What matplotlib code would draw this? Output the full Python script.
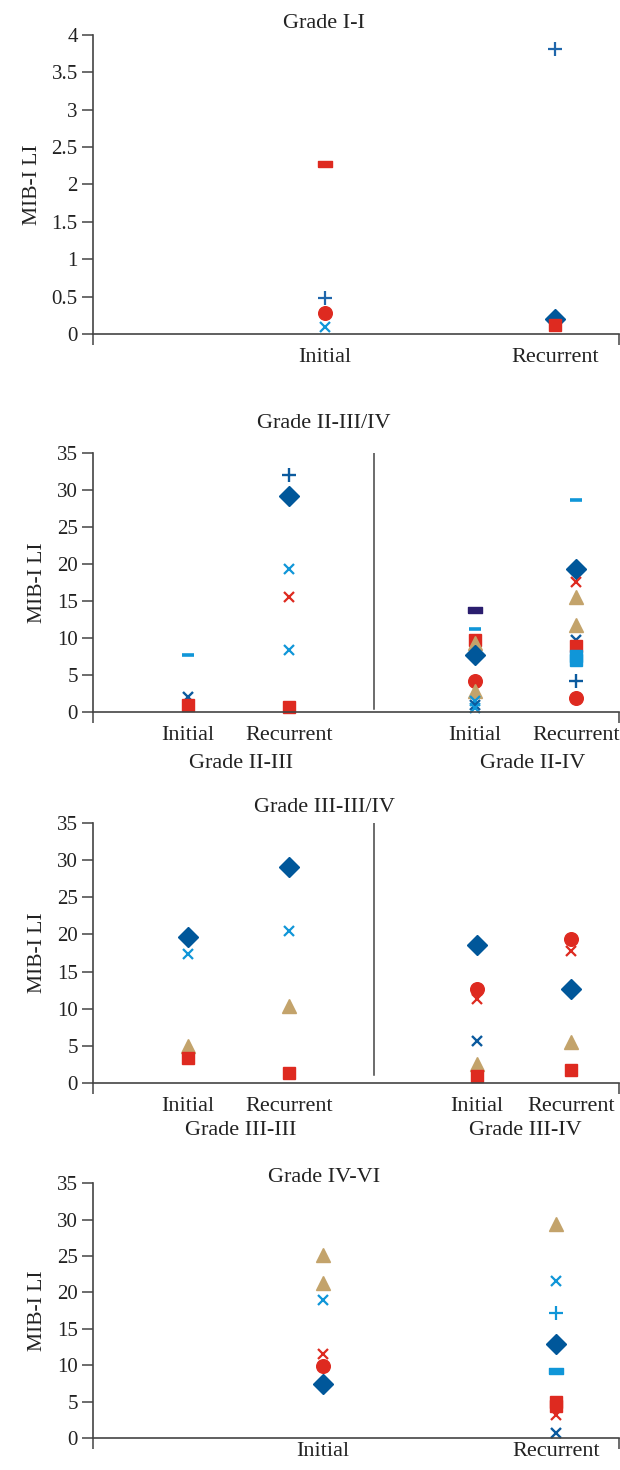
import matplotlib
matplotlib.use("Agg")
import matplotlib.pyplot as plt
from matplotlib.ticker import FixedLocator

plt.rcParams['font.family'] = ['Liberation Serif', 'DejaVu Serif']

# ---------------- data ----------------
CATS = ["Initial", "Recurrent"]

# Grade I-I
g11_init_vals = [2.27, 0.48, 0.28, 0.09]
g11_init_kind = ["red_bar", "plus_blue", "circle", "x_light"]
g11_rec_vals = [3.81, 0.20, 0.12]
g11_rec_kind = ["plus_blue", "diamond", "square"]

# Grade II-III
g23_init_vals = [7.7, 2.1, 1.0]
g23_init_kind = ["dash_light", "x_dark", "square"]
g23_rec_vals = [32.0, 29.2, 19.4, 15.6, 8.4, 0.75]
g23_rec_kind = ["plus_dark", "diamond", "x_light", "x_red", "x_light", "square"]

# Grade II-IV
g24_init_vals = [13.8, 11.2, 9.8, 9.3, 7.7, 4.2, 2.9, 1.5, 1.0, 0.5]
g24_init_kind = ["navy_bar", "dash_light", "square", "triangle", "diamond",
                 "circle", "triangle", "x_light", "x_dark", "x_light"]
g24_rec_vals = [28.6, 19.4, 17.6, 15.6, 11.7, 9.8, 8.9, 7.6, 7.1, 4.2, 1.9]
g24_rec_kind = ["dash_light", "diamond", "x_red", "triangle", "triangle", "x_dark",
                "square", "lsquare", "lsquare", "plus_dark", "circle"]

# Grade III-III
g33_init_vals = [19.6, 17.4, 5.0, 3.4]
g33_init_kind = ["diamond", "x_light", "triangle", "square"]
g33_rec_vals = [29.1, 20.5, 10.3, 1.3]
g33_rec_kind = ["diamond", "x_light", "triangle", "square"]

# Grade III-IV
g34_init_vals = [18.6, 12.7, 11.3, 5.6, 2.6, 0.9]
g34_init_kind = ["diamond", "circle", "x_red", "x_dark", "triangle", "square"]
g34_rec_vals = [19.4, 17.7, 12.6, 5.5, 1.8]
g34_rec_kind = ["circle", "x_red", "diamond", "triangle", "square"]

# Grade IV-VI
g46_init_vals = [25.2, 21.3, 19.0, 11.6, 9.9, 7.4]
g46_init_kind = ["triangle", "triangle", "x_light", "x_red", "circle", "diamond"]
g46_rec_vals = [29.4, 21.6, 17.2, 13.0, 9.2, 5.0, 4.5, 3.2, 0.8]
g46_rec_kind = ["triangle", "x_light", "plus_light", "diamond", "lbar",
                "square", "square", "x_red", "x_dark"]

# ---------------- styles ----------------
DBLUE = '#00579a'
RED = '#de2a20'
TAN = '#c3a36b'
LBLUE = '#1096d8'
XBLUE = '#0b5a9e'
PBLUE = '#1f66ab'
NAVY = '#2a1d6e'
AXC = '#444444'
TXT = '#222222'
BAR = [(-1, -0.42), (1, -0.42), (1, 0.42), (-1, 0.42), (-1, -0.42)]

STY = {
    "diamond": dict(marker='D', color=DBLUE, ms=10),
    "square": dict(marker='s', color=RED, ms=8.4),
    "lsquare": dict(marker='s', color=LBLUE, ms=8.4),
    "triangle": dict(marker='^', color=TAN, ms=9.8),
    "circle": dict(marker='o', color=RED, ms=9.8),
    "x_light": dict(marker='x', color=LBLUE, ms=7.8, mew=1.6),
    "x_red": dict(marker='x', color=RED, ms=7.8, mew=1.6),
    "x_dark": dict(marker='x', color=XBLUE, ms=7.8, mew=1.7),
    "plus_blue": dict(marker='+', color=PBLUE, ms=9.8, mew=1.6),
    "plus_dark": dict(marker='+', color=XBLUE, ms=9.8, mew=1.7),
    "plus_light": dict(marker='+', color=LBLUE, ms=9.8, mew=1.6),
    "dash_light": dict(marker='_', color=LBLUE, ms=8.5, mew=2.6),
    "red_bar": dict(marker=BAR, color=RED, ms=10),
    "navy_bar": dict(marker=BAR, color=NAVY, ms=10),
    "lbar": dict(marker=BAR, color=LBLUE, ms=10),
}

FS_TICK = 15
FS_CAT = 16
FS_TITLE = 16
FS_YLAB = 15.5

fig = plt.figure(figsize=(6.2, 14.7), dpi=100)

AX_LEFT = 0.15
AX_W = 0.849


def make_axes(bottom, height, ymax, ystep, cat_pos, cat_labels, cat_pad=10):
    ax = fig.add_axes([AX_LEFT, bottom, AX_W, height])
    ax.set_xlim(0, 1)
    ax.set_ylim(0, ymax)
    for s in ('top', 'right'):
        ax.spines[s].set_visible(False)
    for s in ('left', 'bottom'):
        ax.spines[s].set_color(AXC)
        ax.spines[s].set_linewidth(1.2)
    n = int(round(ymax / ystep))
    ticks = [i * ystep for i in range(n + 1)]
    ax.set_yticks(ticks)
    ax.set_yticklabels([('%g' % t) for t in ticks])
    ax.tick_params(axis='y', direction='out', length=8, width=1.1, color=AXC,
                   labelsize=FS_TICK, pad=3, labelcolor=TXT)
    ax.set_xticks([0, 1])
    ax.set_xticklabels(['', ''])
    ax.tick_params(axis='x', which='major', direction='out', length=8, width=1.1, color=AXC)
    ax.xaxis.set_minor_locator(FixedLocator(cat_pos))
    ax.set_xticks(cat_pos, minor=True)
    ax.set_xticklabels(cat_labels, minor=True)
    ax.tick_params(axis='x', which='minor', length=0, labelsize=FS_CAT, pad=cat_pad,
                   labelcolor=TXT)
    ax.set_ylabel("MIB-I LI", fontsize=FS_YLAB, color=TXT, labelpad=7)
    for sp in ax.spines.values():
        sp.set_clip_on(False)
    return ax


def plot_points(ax, xpos, vals, kinds):
    for v, k in zip(vals, kinds):
        st = dict(STY[k])
        col = st.pop('color')
        ax.plot([xpos], [v], linestyle='none', color=col, mfc=col, mec=col,
                clip_on=False, **st)


# Panel 1
ax1 = make_axes(0.7728, 0.2034, 4, 0.5, [0.441, 0.878], CATS)
plot_points(ax1, 0.441, g11_init_vals, g11_init_kind)
plot_points(ax1, 0.878, g11_rec_vals, g11_rec_kind)
fig.text(0.523, 0.984, "Grade I-I", ha='center', va='center', fontsize=FS_TITLE, color=TXT)

# Panel 2
pos2 = [0.181, 0.372, 0.725, 0.917]
ax2 = make_axes(0.5156, 0.1762, 35, 5, pos2, CATS + CATS)
plot_points(ax2, pos2[0], g23_init_vals, g23_init_kind)
plot_points(ax2, pos2[1], g23_rec_vals, g23_rec_kind)
plot_points(ax2, pos2[2], g24_init_vals, g24_init_kind)
plot_points(ax2, pos2[3], g24_rec_vals, g24_rec_kind)
ax2.axvline(0.533, ymin=0.01, ymax=1.0, color=AXC, lw=1.1)
fig.text(0.523, 0.7122, "Grade II-III/IV", ha='center', va='center', fontsize=FS_TITLE, color=TXT)
ax2.text(0.281, -0.2, "Grade II-III", transform=ax2.transAxes, ha='center', va='center', fontsize=FS_CAT, color=TXT)
ax2.text(0.836, -0.2, "Grade II-IV", transform=ax2.transAxes, ha='center', va='center', fontsize=FS_CAT, color=TXT)

# Panel 3
pos3 = [0.181, 0.372, 0.729, 0.908]
ax3 = make_axes(0.2633, 0.1769, 35, 5, pos3, CATS + CATS)
plot_points(ax3, pos3[0], g33_init_vals, g33_init_kind)
plot_points(ax3, pos3[1], g33_rec_vals, g33_rec_kind)
plot_points(ax3, pos3[2], g34_init_vals, g34_init_kind)
plot_points(ax3, pos3[3], g34_rec_vals, g34_rec_kind)
ax3.axvline(0.533, ymin=0.03, ymax=1.0, color=AXC, lw=1.1)
fig.text(0.523, 0.451, "Grade III-III/IV", ha='center', va='center', fontsize=FS_TITLE, color=TXT)
ax3.text(0.281, -0.183, "Grade III-III", transform=ax3.transAxes, ha='center', va='center', fontsize=FS_CAT, color=TXT)
ax3.text(0.821, -0.183, "Grade III-IV", transform=ax3.transAxes, ha='center', va='center', fontsize=FS_CAT, color=TXT)

# Panel 4
ax4 = make_axes(0.0215, 0.1737, 35, 5, [0.437, 0.879], CATS, cat_pad=2.5)
plot_points(ax4, 0.437, g46_init_vals, g46_init_kind)
plot_points(ax4, 0.879, g46_rec_vals, g46_rec_kind)
fig.text(0.523, 0.1993, "Grade IV-VI", ha='center', va='center', fontsize=FS_TITLE, color=TXT)

fig.savefig("out.png", dpi=100, facecolor='white')
